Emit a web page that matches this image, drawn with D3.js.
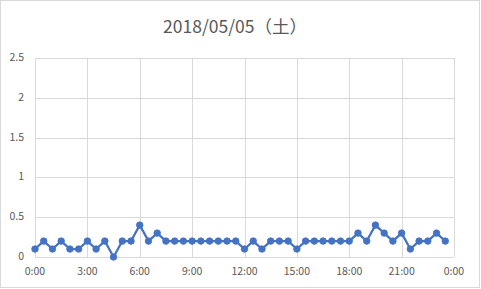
<!doctype html>
<html>
<head>
    <meta charset="utf-8">
    <title>2018/05/05</title>
    <style>
        body {
            margin: 0;
            background: #FFFFFF;
        }

        text {
            font-family: "Noto Sans CJK JP", "Open Sans", sans-serif;
            fill: #595959;
        }

        .grid line {
            stroke: #D9D9D9;
            stroke-width: 1;
            shape-rendering: crispEdges;
        }
    </style>
</head>
<body>
    <div id="chart"></div>

    <script src="https://d3js.org/d3.v7.min.js"></script>
    <script>
        var title = '2018/05/05（土）';

        // every 30 minutes, 0:00 .. 23:30
        var values = [0.1, 0.2, 0.1, 0.2, 0.1, 0.1, 0.2, 0.1, 0.2, 0, 0.2, 0.2,
            0.4, 0.2, 0.3, 0.2, 0.2, 0.2, 0.2, 0.2, 0.2, 0.2, 0.2, 0.2,
            0.1, 0.2, 0.1, 0.2, 0.2, 0.2, 0.1, 0.2, 0.2, 0.2, 0.2, 0.2,
            0.2, 0.3, 0.2, 0.4, 0.3, 0.2, 0.3, 0.1, 0.2, 0.2, 0.3, 0.2];

        var x_ticks = [0, 180, 360, 540, 720, 900, 1080, 1260, 1440];
        var x_tick_labels = ['0:00', '3:00', '6:00', '9:00', '12:00', '15:00', '18:00', '21:00', '0:00'];
        var y_ticks = [0, 0.5, 1, 1.5, 2, 2.5];

        var svg_width = 481;
        var svg_height = 289;

        // plot area
        var plot_left = 35, plot_right = 454, plot_top = 58, plot_bottom = 257;

        var svg = d3.select('#chart').append('svg')
            .attr('width', svg_width)
            .attr('height', svg_height);

        svg.append('rect')
            .attr('x', 0.5)
            .attr('y', 0.5)
            .attr('width', svg_width - 2)
            .attr('height', svg_height - 2)
            .attr('fill', '#FFFFFF')
            .attr('stroke', '#D9D9D9');

        var x = d3.scaleLinear().domain([0, 1440]).range([plot_left, plot_right]);
        var y = d3.scaleLinear().domain([0, 2.5]).range([plot_bottom, plot_top]);

        svg.append('text')
            .attr('x', 235)
            .attr('y', 33)
            .attr('text-anchor', 'middle')
            .style('font-size', '17.5px')
            .text(title);

        // horizontal gridlines
        svg.append('g')
            .attr('class', 'grid')
            .attr('transform', 'translate(' + plot_left + ',0)')
            .call(d3.axisLeft(y).tickValues(y_ticks).tickSize(-(plot_right - plot_left)).tickFormat(''))
            .call(function(g) { g.select('.domain').remove(); });

        // vertical gridlines
        svg.append('g')
            .attr('class', 'grid')
            .attr('transform', 'translate(0,' + plot_bottom + ')')
            .call(d3.axisBottom(x).tickValues(x_ticks).tickSize(-(plot_bottom - plot_top)).tickFormat(''))
            .call(function(g) { g.select('.domain').remove(); });

        svg.selectAll('text.ylab')
            .data(y_ticks)
          .enter().append('text')
            .attr('class', 'ylab')
            .attr('x', 24)
            .attr('y', function(d) { return y(d) + 3; })
            .attr('text-anchor', 'end')
            .style('font-size', '10.5px')
            .text(function(d) { return d; });

        svg.selectAll('text.xlab')
            .data(x_ticks)
          .enter().append('text')
            .attr('class', 'xlab')
            .attr('x', function(d) { return x(d); })
            .attr('y', 275)
            .attr('text-anchor', 'middle')
            .style('font-size', '10.5px')
            .text(function(d, i) { return x_tick_labels[i]; });

        var line = d3.line()
            .x(function(d, i) { return x(i * 30); })
            .y(function(d) { return y(d); });

        svg.append('path')
            .datum(values)
            .attr('fill', 'none')
            .attr('stroke', '#4472C4')
            .attr('stroke-width', 2.25)
            .attr('stroke-linejoin', 'round')
            .attr('d', line);

        svg.selectAll('circle.pt')
            .data(values)
          .enter().append('circle')
            .attr('class', 'pt')
            .attr('cx', function(d, i) { return x(i * 30); })
            .attr('cy', function(d) { return y(d); })
            .attr('r', 3.3)
            .attr('fill', '#4472C4')
            .attr('stroke', '#4472C4')
            .attr('stroke-width', 0.75);
    </script>
</body>
</html>
